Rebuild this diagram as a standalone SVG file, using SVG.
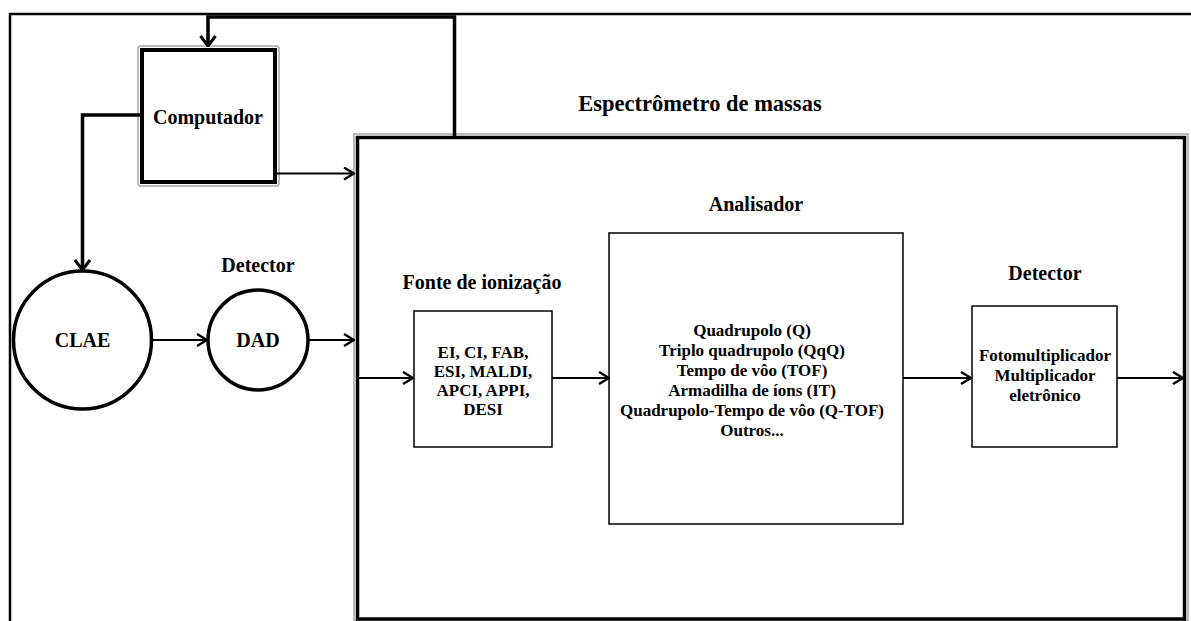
<svg xmlns="http://www.w3.org/2000/svg" width="1191" height="621" viewBox="0 0 1191 621">
<style>
text{font-family:"Liberation Serif","Times New Roman",serif;font-weight:bold;fill:#000;text-anchor:middle}
.lbl{font-size:20px}
.ttl{font-size:22.5px}
.sm{font-size:17px}
.box{fill:#fff;stroke:#000;stroke-width:1.5}
.gray{fill:none;stroke:#777;stroke-width:1}
.thick{fill:none;stroke:#000;stroke-width:4}
.circ{fill:#fff;stroke:#000;stroke-width:3.5}
.ln{fill:none;stroke:#000;stroke-width:2}
.lnb{fill:none;stroke:#000;stroke-width:3.5}
</style>
<defs>
<marker id="ah" viewBox="0 0 12 14" refX="11" refY="7" markerWidth="12" markerHeight="14" markerUnits="userSpaceOnUse" orient="auto">
<path d="M1,1 L11,7 L1,13" fill="none" stroke="#000" stroke-width="2.4"/>
</marker>
<marker id="ahb" viewBox="0 0 12 18" refX="11" refY="9" markerWidth="12" markerHeight="18" markerUnits="userSpaceOnUse" orient="auto">
<path d="M1,1.5 L11,9 L1,16.5" fill="none" stroke="#000" stroke-width="3"/>
</marker>
</defs>
<rect width="1191" height="621" fill="#fff"/>
<g id="frame">
<path d="M10,621 L10,14 L1191,14" fill="none" stroke="#000" stroke-width="2.5"/>
</g>
<g id="espectrometro">
<rect x="354" y="134" width="834" height="487" class="gray"/>
<rect x="357.5" y="137.5" width="827" height="481.5" fill="none" stroke="#000" stroke-width="3.5"/>
<text x="700" y="111" class="ttl">Espectrômetro de massas</text>
</g>
<g id="computador">
<rect x="138" y="46" width="141" height="140" rx="2" class="gray" fill="#fff"/>
<rect x="142" y="50" width="133" height="132" class="thick"/>
<text x="208" y="124" class="lbl">Computador</text>
</g>
<g id="clae">
<circle cx="82.5" cy="340" r="69" class="circ"/>
<text x="82.5" y="347" class="lbl">CLAE</text>
</g>
<g id="dad">
<text x="258" y="272" class="lbl">Detector</text>
<circle cx="258" cy="340" r="50" class="circ"/>
<text x="258" y="347" class="lbl">DAD</text>
</g>
<g id="fonte">
<text x="482" y="289" class="lbl">Fonte de ionização</text>
<rect x="414" y="311" width="138" height="136" class="box"/>
<text x="483" y="358" class="sm">EI, CI, FAB,</text>
<text x="483" y="377" class="sm">ESI, MALDI,</text>
<text x="483" y="396" class="sm">APCI, APPI,</text>
<text x="483" y="415" class="sm">DESI</text>
</g>
<g id="analisador">
<text x="756" y="211" class="lbl">Analisador</text>
<rect x="609" y="233" width="294" height="291" class="box"/>
<text x="752" y="336" class="sm">Quadrupolo (Q)</text>
<text x="752" y="356" class="sm">Triplo quadrupolo (QqQ)</text>
<text x="752" y="376" class="sm">Tempo de vôo (TOF)</text>
<text x="752" y="396" class="sm">Armadilha de íons (IT)</text>
<text x="752" y="416" class="sm">Quadrupolo-Tempo de vôo (Q-TOF)</text>
<text x="752" y="436" class="sm">Outros...</text>
</g>
<g id="detector">
<text x="1045" y="280" class="lbl">Detector</text>
<rect x="972" y="306" width="145" height="141" class="box"/>
<text x="1045" y="361" class="sm">Fotomultiplicador</text>
<text x="1045" y="381" class="sm">Multiplicador</text>
<text x="1045" y="401" class="sm">eletrônico</text>
</g>
<g id="connectors">
<path d="M454.5,136 L454.5,17 L208,17 L208,46" class="lnb" marker-end="url(#ahb)"/>
<path d="M140,115 L82.5,115 L82.5,270" class="lnb" marker-end="url(#ahb)"/>
<path d="M277,173.5 L354,173.5" class="ln" marker-end="url(#ah)"/>
<path d="M152,340 L207,340" class="ln" marker-end="url(#ah)"/>
<path d="M308,340 L354,340" class="ln" marker-end="url(#ah)"/>
<path d="M359,378 L413,378" class="ln" marker-end="url(#ah)"/>
<path d="M552,378 L609,378" class="ln" marker-end="url(#ah)"/>
<path d="M903,378 L971,378" class="ln" marker-end="url(#ah)"/>
<path d="M1117,378 L1183,378" class="ln" marker-end="url(#ah)"/>
</g>
</svg>
